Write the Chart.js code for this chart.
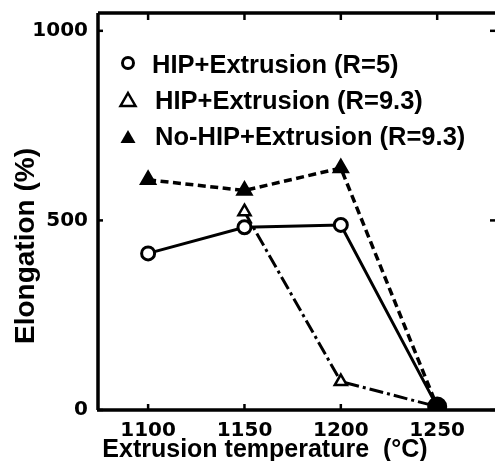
<!DOCTYPE html>
<html><head><meta charset="utf-8">
<script src="https://cdn.jsdelivr.net/npm/chart.js@4.4.0/dist/chart.umd.min.js"></script>
<style>html,body{margin:0;padding:0;background:#fff}#wrap{width:495px;height:461px;position:relative}</style>
</head><body><div id="wrap"><canvas id="c" width="495" height="461"></canvas></div>
<script>
const temperatures = [1100, 1150, 1200, 1250];
const hipR5 = [413, 482, 488, 9];
const hipR93 = [null, 523, 75, 9];
const noHipR93 = [607, 579, 638, 9];
const xTicks = [1100, 1150, 1200, 1250];
const yTicks = [0, 500, 1000];
const seriesLabels = ['HIP+Extrusion (R=5)', 'HIP+Extrusion (R=9.3)', 'No-HIP+Extrusion (R=9.3)'];
const xTitle = 'Extrusion temperature  (°C)';
const yTitle = 'Elongation (%)';

const FONT = '"Liberation Sans", Arial, sans-serif';
const TICKFONT = '"DejaVu Sans", sans-serif';
const toPts = arr => temperatures.map((t, i) => ({x: t, y: arr[i]})).filter(p => p.y !== null);

const framePlugin = {
  id: 'frame',
  afterDatasetsDraw(chart) {
    const {ctx, chartArea: a, scales} = chart;
    ctx.save();
    ctx.strokeStyle = '#000';
    ctx.fillStyle = '#000';
    ctx.lineWidth = 3.5;
    ctx.beginPath();
    ctx.moveTo(a.left, a.top); ctx.lineTo(a.right + 4, a.top);
    ctx.moveTo(a.left, a.top); ctx.lineTo(a.left, a.bottom);
    ctx.moveTo(a.left - 1, a.bottom); ctx.lineTo(a.right + 4, a.bottom);
    ctx.stroke();
    ctx.lineWidth = 2.5;
    xTicks.forEach(v => {
      const x = scales.x.getPixelForValue(v);
      ctx.beginPath(); ctx.moveTo(x, a.bottom); ctx.lineTo(x, a.bottom - 6); ctx.stroke();
      ctx.beginPath(); ctx.moveTo(x, a.top); ctx.lineTo(x, a.top + 7); ctx.stroke();
    });
    yTicks.forEach(v => {
      const y = scales.y.getPixelForValue(v);
      ctx.beginPath(); ctx.moveTo(a.left, y); ctx.lineTo(a.left + 5, y); ctx.stroke();
      ctx.beginPath(); ctx.moveTo(a.right + 1, y); ctx.lineTo(a.right - 5, y); ctx.stroke();
    });
    // legend
    const lx = 128;
    const my = [63, 100, 137];
    const by = [73, 109, 145];
    const tx = [152, 155, 155];
    ctx.font = 'bold 25.5px ' + FONT;
    ctx.textBaseline = 'alphabetic';
    chart.data.datasets.forEach((ds, i) => {
      const y = my[i];
      ctx.lineWidth = 3;
      ctx.beginPath();
      if (i === 0) {
        ctx.arc(lx, y, 5.5, 0, Math.PI * 2); ctx.stroke();
      } else {
        ctx.moveTo(lx, y - 7); ctx.lineTo(lx + 7.5, y + 6); ctx.lineTo(lx - 7.5, y + 6); ctx.closePath();
        if (i === 2) ctx.fill(); else { ctx.lineWidth = 2.5; ctx.stroke(); }
      }
      ctx.fillText(ds.label, tx[i], by[i]);
    });
    // axis titles
    ctx.font = 'bold 25px ' + FONT;
    ctx.textAlign = 'center';
    ctx.fillText(xTitle, 265, 457);
    ctx.save();
    ctx.translate(34, 246);
    ctx.rotate(-Math.PI / 2);
    ctx.font = 'bold 28px ' + FONT;
    ctx.fillText(yTitle, 0, 0);
    ctx.restore();
    ctx.restore();
  }
};

new Chart(document.getElementById('c'), {
  type: 'line',
  data: {
    datasets: [
      {label: seriesLabels[0], data: toPts(hipR5), borderColor: '#000', borderWidth: 3,
       pointStyle: 'circle', pointRadius: [6.5, 6.5, 6.5, 8.5], pointBorderWidth: 3,
       pointBackgroundColor: ['#fff', '#fff', '#fff', '#000'], pointBorderColor: '#000', order: 1},
      {label: seriesLabels[1], data: toPts(hipR93), borderColor: '#000', borderWidth: 3,
       borderDash: [14, 4, 3, 4], pointStyle: 'triangle', pointRadius: [7, 7, 0], pointBorderWidth: 2.5,
       pointBackgroundColor: '#fff', pointBorderColor: '#000', order: 2},
      {label: seriesLabels[2], data: toPts(noHipR93), borderColor: '#000', borderWidth: 3.5,
       borderDash: [8, 4.5], pointStyle: 'triangle', pointRadius: [8.5, 8.5, 8.5, 0], pointBorderWidth: 2,
       pointBackgroundColor: '#000', pointBorderColor: '#000', order: 3}
    ]
  },
  options: {
    responsive: false,
    animation: false,
    layout: {autoPadding: false, padding: {top: 13, right: 0, left: 0, bottom: 0}},
    plugins: {legend: {display: false}, tooltip: {enabled: false}},
    elements: {line: {tension: 0}},
    scales: {
      x: {
        type: 'linear', min: 1074, max: 1280,
        afterBuildTicks: s => { s.ticks = xTicks.map(v => ({value: v})); },
        afterFit: s => { s.height = 51; s.paddingLeft = 0; s.paddingRight = 0; },
        grid: {display: false, drawTicks: false},
        border: {display: false},
        ticks: {color: '#000', font: {family: TICKFONT, size: 20, weight: 'bold'}, padding: 9, maxRotation: 0,
                callback: v => String(v)},
        title: {display: false}
      },
      y: {
        type: 'linear', min: 0, max: 1047,
        afterBuildTicks: s => { s.ticks = yTicks.map(v => ({value: v})); },
        afterFit: s => { s.width = 98; s.paddingTop = 0; s.paddingBottom = 0; },
        grid: {display: false, drawTicks: false},
        border: {display: false},
        ticks: {color: '#000', font: {family: TICKFONT, size: 20, weight: 'bold'}, padding: 10,
                callback: v => String(v)},
        title: {display: false}
      }
    }
  },
  plugins: [framePlugin]
});
</script></body></html>
